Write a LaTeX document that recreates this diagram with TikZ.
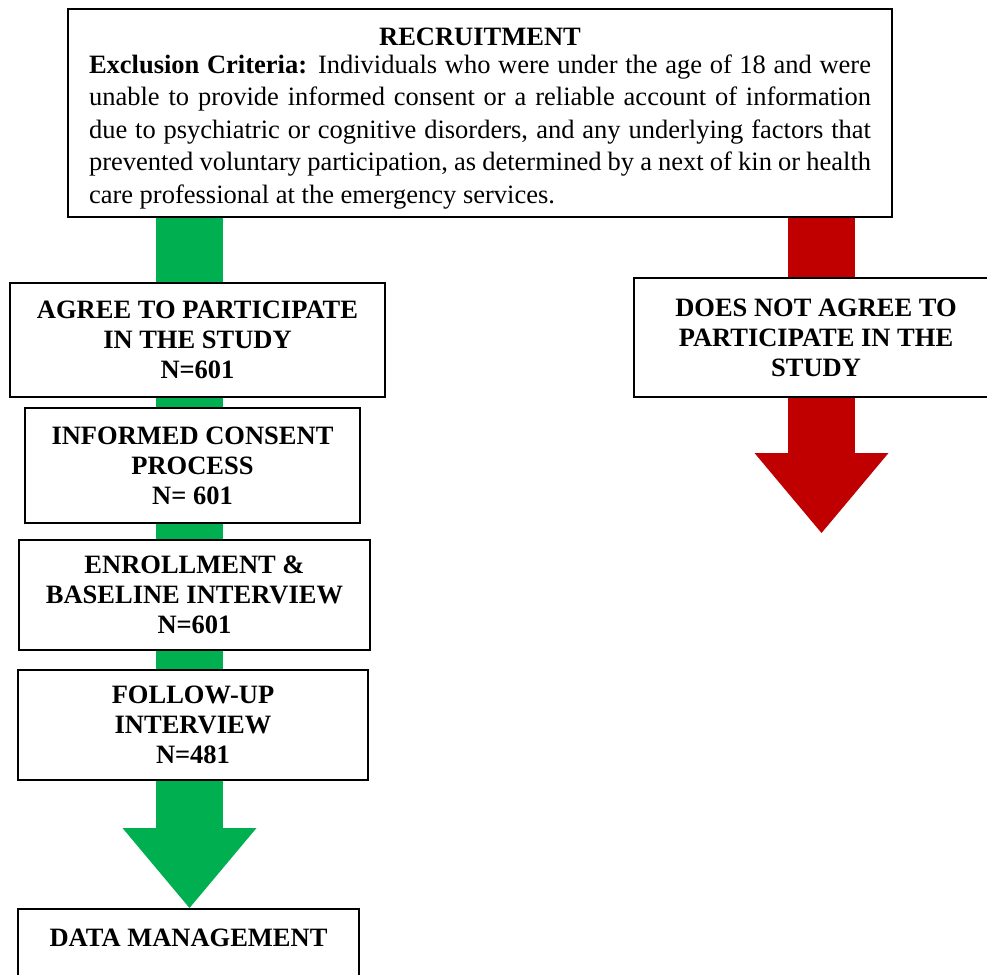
\documentclass[tikz,border=0pt]{standalone}
\usepackage{fontspec}
\setmainfont{Liberation Serif}
\usepackage{tikz}
\usetikzlibrary{arrows.meta,positioning,calc,backgrounds}

\definecolor{gogreen}{RGB}{0,176,80}
\definecolor{stopred}{RGB}{192,0,0}

\begin{document}
\begin{tikzpicture}[x=1pt, y=-1pt,
    stepbox/.style={draw, line width=2pt, fill=white, anchor=north west, inner sep=0pt, align=center, font=\bfseries\fontsize{26.5}{30}\selectfont},
    flow/.style={line width=67pt, -{Triangle[length=80pt, width=134pt, line width=0pt]}}]
  \useasboundingbox (0,0) rectangle (987,974);
  \clip (0,0) rectangle (987,974);

  % recruitment box
  \node[draw, line width=2pt, fill=white, anchor=north west, minimum width=824pt, minimum height=208pt,
        inner xsep=20pt, inner ysep=0pt, text width=782pt, align=justify,
        font=\fontsize{26.5}{32.5}\selectfont] (recruit) at (67,8)
    {\hyphenpenalty=10000 \vspace*{10pt}{\centering\raisebox{-11pt}[\height][\depth]{\textbf{RECRUITMENT}}\par}\vspace{-4pt}
     \textbf{Exclusion Criteria:} Individuals who were under the age of 18 and were\linebreak
     unable to provide informed consent or a reliable account of information\linebreak
     due to psychiatric or cognitive disorders, and any underlying factors that\linebreak
     prevented voluntary participation, as determined by a next of kin or health\linebreak
     care professional at the emergency services.};

  % left column
  \node[stepbox, minimum width=375pt, minimum height=114pt] (agree) at (9,282)
    {AGREE TO PARTICIPATE\\IN THE STUDY\\N=601};
  \node[stepbox, minimum width=335pt, minimum height=115pt] (consent) at (24,407)
    {INFORMED CONSENT\\PROCESS\\N= 601};
  \node[stepbox, minimum width=351pt, minimum height=110pt] (enrol) at (18,539)
    {ENROLLMENT \&\\BASELINE INTERVIEW\\N=601};
  \node[stepbox, minimum width=350pt, minimum height=110pt] (follow) at (17,669)
    {FOLLOW-UP\\INTERVIEW\\N=481};
  \node[stepbox, minimum width=341pt, text height=37pt, text depth=90pt] (data) at (17,908)
    {DATA MANAGEMENT};

  % right column
  \node[stepbox, minimum width=364pt, minimum height=119pt] (decline) at (633,277)
    {DOES NOT AGREE TO\\PARTICIPATE IN THE\\STUDY};

  % arrows
  \coordinate (g0) at (189.5,216);
  \coordinate (r0) at (821.5,216);
  \coordinate (r1) at (821.5,533);
  \begin{pgfonlayer}{background}
    \draw[flow, gogreen] (g0) -- (g0 |- data.north);
    \draw[flow, stopred] (r0) -- (r1);
  \end{pgfonlayer}
\end{tikzpicture}
\end{document}
